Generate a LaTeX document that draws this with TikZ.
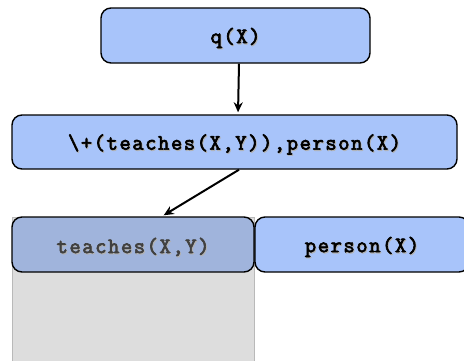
\documentclass[tikz,border=0pt]{standalone}
\usepackage{fontspec}
\setmonofont[LetterSpace=7, FakeBold=3]{Latin Modern Mono}
\usetikzlibrary{arrows.meta}
\definecolor{boxblue}{RGB}{168,196,250}
\definecolor{boxdark}{RGB}{160,180,220}
\definecolor{stackgray}{RGB}{221,221,221}
\definecolor{stackline}{RGB}{185,185,185}
\newcommand\shtext[2][black]{\raisebox{-3pt}[\height][\depth]{\rlap{\kern0.9pt\raisebox{-1.1pt}{\textcolor{black!30}{#2}}}\textcolor{#1}{#2}}}
\tikzset{
  goal/.style={draw=black, line width=1.4pt, rounded corners=10pt, fill=boxblue,
    font=\ttfamily\fontsize{22}{24}\selectfont, inner sep=0pt},
  link/.style={-{Stealth[length=10pt,width=9pt]}, line width=2pt, shorten >=2pt}
}
\begin{document}
\begin{tikzpicture}[x=1pt,y=-1pt]
\useasboundingbox (0,0) rectangle (464,360);
\fill[white] (0,0) rectangle (464,360);
\draw[fill=stackgray, draw=stackline, line width=1pt] (12,217) rectangle (254,365);
\node[goal, minimum width=269pt, minimum height=55pt] (q) at (235.5,35.5) {\shtext{q(X)}};
\node[goal, minimum width=445pt, minimum height=54pt] (mid) at (234.5,142) {\shtext{\textbackslash+(teaches(X,Y)),person(X)}};
\node[goal, fill=boxdark, minimum width=242pt, minimum height=55pt] (teach) at (133,244.5) {\shtext[black!75]{teaches(X,Y)}};
\node[goal, minimum width=214pt, minimum height=55pt] (person) at (362,244.5) {\shtext{person(X)}};
\draw[link] ([xshift=3.5pt]q.south) -- ([xshift=3.5pt]mid.north);
\draw[link] ([xshift=4.5pt]mid.south) -- ([xshift=29pt]teach.north);
\end{tikzpicture}
\end{document}
